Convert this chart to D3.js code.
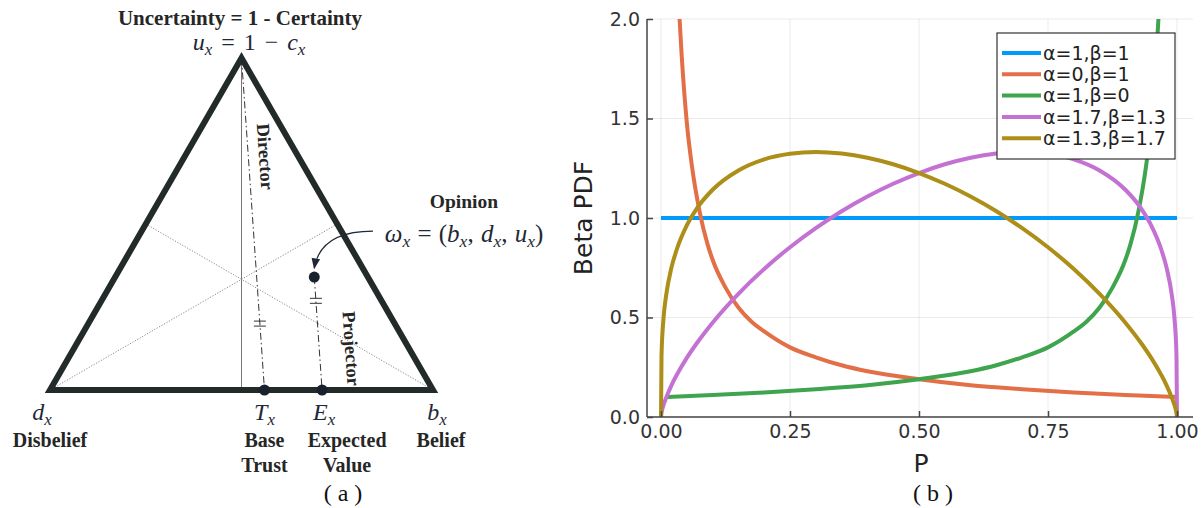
<!DOCTYPE html>
<html lang="en">
<head>
<meta charset="UTF-8">
<title>Opinion triangle and Beta PDF</title>
<style>
  body { margin: 0; background: #fff; }
  svg { display: block; }
  .serif { font-family: "Liberation Serif", "Times New Roman", serif; }
  .sans { font-family: "DejaVu Sans", sans-serif; }
</style>
<script src="https://d3js.org/d3.v7.min.js"></script>
</head>
<body>
<div id="chart"></div>
<script>
// ---------- panel (a): opinion triangle ----------
// opinion in (belief, disbelief, uncertainty) and the base trust rate
var opinion = { b: 0.52, d: 0.14, u: 0.34 };
var baseRate = 0.56;
var cornerLabels = [
  { v: "d", name: ["Disbelief"] },
  { v: "T", name: ["Base", "Trust"] },
  { v: "E", name: ["Expected", "Value"] },
  { v: "b", name: ["Belief"] }
];

// ---------- panel (b): Beta PDF curves ----------
var pGrid = [0, 0.001, 0.005, 0.01, 0.02, 0.03, 0.05, 0.07, 0.1, 0.15, 0.2, 0.25, 0.3, 0.35,
  0.4, 0.45, 0.5, 0.55, 0.6, 0.65, 0.7, 0.75, 0.8, 0.85, 0.9, 0.93, 0.95, 0.97, 0.98, 0.99,
  0.995, 0.999, 1];
var purpleV = [0, 0.02, 0.06, 0.097, 0.158, 0.209, 0.297, 0.373, 0.474, 0.619, 0.744, 0.853,
  0.949, 1.034, 1.108, 1.172, 1.226, 1.27, 1.303, 1.324, 1.332, 1.323, 1.295, 1.239, 1.142,
  1.05, 0.963, 0.838, 0.748, 0.612, 0.499, 0.309, 0];
var goldV = [0, 0.309, 0.499, 0.612, 0.748, 0.838, 0.963, 1.05, 1.142, 1.239, 1.295, 1.323,
  1.332, 1.324, 1.303, 1.27, 1.226, 1.172, 1.108, 1.034, 0.949, 0.853, 0.744, 0.619, 0.474,
  0.373, 0.297, 0.209, 0.158, 0.097, 0.06, 0.02, 0];
var blueP = [0, 1];
var blueV = [1, 1];
var orangeP = [0.034, 0.04, 0.05, 0.06, 0.075, 0.09, 0.1, 0.125, 0.15, 0.175, 0.2, 0.25, 0.3,
  0.35, 0.4, 0.5, 0.6, 0.7, 0.8, 0.9, 1];
var orangeV = [2.09, 1.82, 1.48, 1.26, 1.03, 0.87, 0.79, 0.65, 0.55, 0.48, 0.43, 0.35, 0.3,
  0.26, 0.23, 0.19, 0.16, 0.14, 0.123, 0.11, 0.1];
var greenP = [0.01, 0.1, 0.2, 0.3, 0.4, 0.5, 0.6, 0.65, 0.7, 0.75, 0.8, 0.825, 0.85, 0.875,
  0.9, 0.91, 0.925, 0.94, 0.95, 0.96, 0.966];
var greenV = [0.1, 0.11, 0.123, 0.14, 0.16, 0.19, 0.23, 0.26, 0.3, 0.35, 0.43, 0.48, 0.55,
  0.65, 0.79, 0.87, 1.03, 1.26, 1.48, 1.82, 2.09];
var seriesNames = ["α=1,β=1", "α=0,β=1", "α=1,β=0", "α=1.7,β=1.3", "α=1.3,β=1.7"];
var seriesColors = ["#009afa", "#e36f47", "#3ea44e", "#c371d2", "#ac8e18"];
var xTicks = [0, 0.25, 0.5, 0.75, 1];
var yTicks = [0, 0.5, 1, 1.5, 2];

var width = 1203, height = 508;
var svg = d3.select("#chart").append("svg")
  .attr("width", width)
  .attr("height", height);

// ===== panel (a) =====
var ink = "#232b2a", mathInk = "#1f2836";
var tx = d3.scaleLinear().domain([0, 1]).range([50, 433]);
var ty = d3.scaleLinear().domain([0, Math.sqrt(3) / 2]).range([390, 58]);
// barycentric -> screen
function pos(b, d, u) {
  return [tx(b + u / 2), ty(u * Math.sqrt(3) / 2)];
}
var D = pos(0, 1, 0), B = pos(1, 0, 0), U = pos(0, 0, 1);
var O = pos(opinion.b, opinion.d, opinion.u);
var T = pos(baseRate, 1 - baseRate, 0);
var E = pos(opinion.b + baseRate * opinion.u, 1 - opinion.b - baseRate * opinion.u, 0);

var ga = svg.append("g");

// guide lines
ga.append("line").attr("x1", U[0]).attr("y1", U[1]).attr("x2", U[0]).attr("y2", D[1])
  .attr("stroke", "#666").attr("stroke-width", 0.9);
var midBU = [(B[0] + U[0]) / 2, (B[1] + U[1]) / 2];
var midDU = [(D[0] + U[0]) / 2, (D[1] + U[1]) / 2];
[[D, midBU], [B, midDU]].forEach(function (s) {
  ga.append("line").attr("x1", s[0][0]).attr("y1", s[0][1]).attr("x2", s[1][0]).attr("y2", s[1][1])
    .attr("stroke", "#888").attr("stroke-width", 1).attr("stroke-dasharray", "1.2,1.6");
});

// director and projector
[[U, T], [O, E]].forEach(function (s) {
  ga.append("line").attr("x1", s[0][0]).attr("y1", s[0][1]).attr("x2", s[1][0]).attr("y2", s[1][1])
    .attr("stroke", "#333").attr("stroke-width", 1).attr("stroke-dasharray", "7,3,1.5,3");
});

// equal marks on both lines
function equalMark(a, b, t) {
  var px = a[0] + (b[0] - a[0]) * t, py = a[1] + (b[1] - a[1]) * t;
  [-2.5, 2.5].forEach(function (off) {
    ga.append("line")
      .attr("x1", px - 6).attr("y1", py + off).attr("x2", px + 6).attr("y2", py + off)
      .attr("stroke", "#333").attr("stroke-width", 1);
  });
}
equalMark(U, T, 0.8);
equalMark(O, E, 0.21);

// triangle
ga.append("path")
  .attr("d", d3.line()([D, B, U]) + "Z")
  .attr("fill", "none").attr("stroke", ink).attr("stroke-width", 6)
  .attr("stroke-linejoin", "miter");

// arrow from the opinion formula to the point
svg.append("defs").append("marker")
  .attr("id", "head").attr("viewBox", "0 0 10 10").attr("refX", 9).attr("refY", 5)
  .attr("markerWidth", 9).attr("markerHeight", 9).attr("orient", "auto-start-reverse")
  .append("path").attr("d", "M0,1 L10,5 L0,9 Z").attr("fill", mathInk);
ga.append("path")
  .attr("d", "M373," + (O[1] - 46) + " Q" + (O[0] + 6) + "," + (O[1] - 46) + " " + O[0] + "," + (O[1] - 9))
  .attr("fill", "none").attr("stroke", mathInk).attr("stroke-width", 1.2)
  .attr("marker-end", "url(#head)");

// points
[O, T, E].forEach(function (p) {
  ga.append("circle").attr("cx", p[0]).attr("cy", p[1]).attr("r", 5.5).attr("fill", "#18222e");
});

// math text helper: parts = [text, kind] with kind i (italic), s (subscript), n (normal)
function mathText(x, y, parts, size, spacing) {
  var t = ga.append("text").attr("class", "serif").attr("x", x).attr("y", y)
    .attr("text-anchor", "middle").attr("font-size", size).attr("fill", mathInk)
    .attr("word-spacing", spacing || 0);
  var shift = 0;
  parts.forEach(function (p) {
    var span = t.append("tspan").text(p[0]);
    var target = p[1] === "s" ? size * 0.2 : 0;
    if (target !== shift) { span.attr("dy", target - shift); shift = target; }
    if (p[1] === "s") span.attr("font-size", size * 0.7).attr("font-style", "italic");
    if (p[1] === "i") span.attr("font-style", "italic");
  });
  return t;
}

function label(x, y, txt, size, rot) {
  var t = ga.append("text").attr("class", "serif")
    .attr("text-anchor", "middle").attr("font-weight", "bold")
    .attr("font-size", size).attr("fill", "#262626").text(txt);
  if (rot) t.attr("transform", "translate(" + x + "," + y + ") rotate(" + rot + ")");
  else t.attr("x", x).attr("y", y);
  return t;
}

label(240, 24.5, "Uncertainty = 1 - Certainty", 21);
mathText(249, 50, [["u", "i"], ["x", "s"], [" = 1 − ", "n"], ["c", "i"], ["x", "s"]], 24, 3);
label(464, 208, "Opinion", 19.5);
mathText(464, 242, [["ω", "i"], ["x", "s"], [" = (", "n"], ["b", "i"], ["x", "s"], [", ", "n"],
  ["d", "i"], ["x", "s"], [", ", "n"], ["u", "i"], ["x", "s"], [")", "n"]], 25, 1);

var dirAngle = Math.atan2(T[1] - U[1], T[0] - U[0]) * 180 / Math.PI;
label(259, 157, "Director", 18.5, dirAngle);
label(345, 349, "Projector", 18.5, dirAngle);

// bottom labels
var cornerX = [D[0] - 8, T[0], E[0] + 2, B[0] + 4];
var nameX = [D[0], T[0], E[0] + 25, B[0] + 8];
cornerLabels.forEach(function (c, i) {
  mathText(cornerX[i], 420, [[c.v, "i"], ["x", "s"]], 24);
  c.name.forEach(function (n, k) {
    label(nameX[i], 447 + k * 25, n, 20);
  });
});
ga.append("text").attr("class", "serif").attr("x", 343).attr("y", 501)
  .attr("text-anchor", "middle").attr("font-size", 24).attr("fill", "#111").text("( a )");

// ===== panel (b) =====
var frame = { left: 647, right: 1193, top: 19, bottom: 417 };
var x = d3.scaleLinear().domain([0, 1]).range([661, 1177]);
var y = d3.scaleLinear().domain([0, 2]).range([frame.bottom, frame.top]);
var gb = svg.append("g");

// grid
gb.append("g").selectAll("line").data(xTicks).join("line")
  .attr("x1", d => x(d)).attr("x2", d => x(d)).attr("y1", frame.top).attr("y2", frame.bottom)
  .attr("stroke", "#000").attr("stroke-opacity", 0.08).attr("stroke-width", 1);
gb.append("g").selectAll("line").data(yTicks).join("line")
  .attr("x1", frame.left).attr("x2", frame.right).attr("y1", d => y(d)).attr("y2", d => y(d))
  .attr("stroke", "#000").attr("stroke-opacity", 0.08).attr("stroke-width", 1);

// curves
gb.append("clipPath").attr("id", "plotclip").append("rect")
  .attr("x", frame.left).attr("y", frame.top)
  .attr("width", frame.right - frame.left).attr("height", frame.bottom - frame.top);
var line = d3.line().x(d => x(d[0])).y(d => y(d[1])).curve(d3.curveMonotoneX);
var series = [
  d3.zip(blueP, blueV),
  d3.zip(orangeP, orangeV),
  d3.zip(greenP, greenV),
  d3.zip(pGrid, purpleV),
  d3.zip(pGrid, goldV)
];
gb.append("g").attr("clip-path", "url(#plotclip)")
  .selectAll("path").data(series).join("path")
  .attr("d", line)
  .attr("fill", "none")
  .attr("stroke", (d, i) => seriesColors[i])
  .attr("stroke-width", 4)
  .attr("stroke-linejoin", "round");

// axes
var axisColor = "#444";
var xAxis = gb.append("g").attr("class", "sans")
  .attr("transform", "translate(0," + frame.bottom + ")")
  .call(d3.axisBottom(x).tickValues(xTicks).tickFormat(d3.format(".2f"))
    .tickSizeInner(-6).tickSizeOuter(0).tickPadding(8));
var yAxis = gb.append("g").attr("class", "sans")
  .attr("transform", "translate(" + frame.left + ",0)")
  .call(d3.axisLeft(y).tickValues(yTicks).tickFormat(d3.format(".1f"))
    .tickSizeInner(-6).tickSizeOuter(0).tickPadding(7));
[xAxis, yAxis].forEach(function (a) {
  a.select(".domain").remove();
  a.selectAll(".tick line").attr("stroke", axisColor).attr("stroke-width", 1.5);
  a.selectAll(".tick text").attr("font-size", 19).attr("fill", "#333").attr("font-family", "DejaVu Sans");
});
gb.append("line").attr("x1", frame.left).attr("x2", frame.right)
  .attr("y1", frame.bottom).attr("y2", frame.bottom).attr("stroke", axisColor).attr("stroke-width", 1.5);
gb.append("line").attr("x1", frame.left).attr("x2", frame.left)
  .attr("y1", frame.top).attr("y2", frame.bottom).attr("stroke", axisColor).attr("stroke-width", 1.5);

gb.append("text").attr("class", "sans").attr("x", 921).attr("y", 472)
  .attr("text-anchor", "middle").attr("font-size", 25).attr("fill", "#222").text("P");
gb.append("text").attr("class", "sans")
  .attr("transform", "translate(592,218) rotate(-90)")
  .attr("text-anchor", "middle").attr("font-size", 25).attr("fill", "#222").text("Beta PDF");
gb.append("text").attr("class", "serif").attr("x", 933).attr("y", 501)
  .attr("text-anchor", "middle").attr("font-size", 24).attr("fill", "#111").text("( b )");

// legend
var lg = gb.append("g").attr("class", "sans");
lg.append("rect").attr("x", 997).attr("y", 33).attr("width", 178).attr("height", 126)
  .attr("fill", "#fff").attr("stroke", "#333").attr("stroke-width", 1.2);
var rows = lg.selectAll("g.row").data(seriesNames).join("g").attr("class", "row")
  .attr("transform", (d, i) => "translate(1002," + (53 + i * 21.3) + ")");
rows.append("line").attr("x1", 0).attr("x2", 39)
  .attr("stroke", (d, i) => seriesColors[i]).attr("stroke-width", 4);
rows.append("text").attr("x", 41).attr("dy", "0.35em")
  .attr("font-size", 19).attr("fill", "#222").text(d => d);
</script>
</body>
</html>
